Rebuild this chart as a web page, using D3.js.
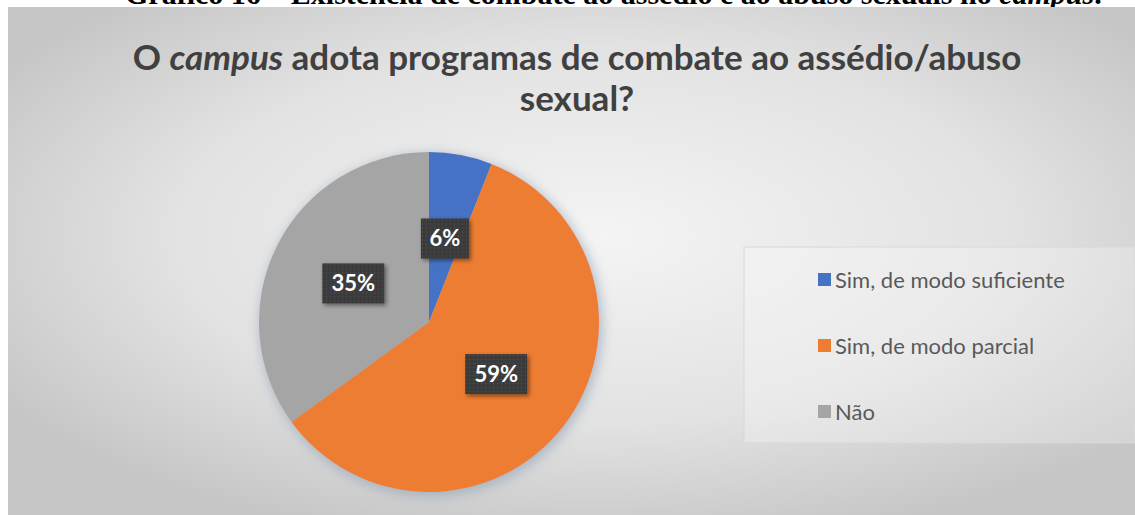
<!doctype html>
<html lang="pt">
<head>
	<meta charset="UTF-8">
	<title>campus assedio</title>
	<script src="https://d3js.org/d3.v7.min.js"></script>
	<style>
		body { margin: 0; background: #fff; overflow: hidden; }
	</style>
</head>
<body>
	<div id="chart"></div>
	<script>
		// data
		var categories = ['Sim, de modo suficiente', 'Sim, de modo parcial', 'Não']
		var values = [6, 59, 35]
		var colors = ['#4472C4', '#ED7D31', '#A5A5A5']

		var w = 1135, h = 515

		var svg = d3.select('#chart').append('svg')
			.attr('width', w)
			.attr('height', h)

		var defs = svg.append('defs')

		// chart background, light in the middle and grey at the edges
		var bg = defs.append('radialGradient')
			.attr('id', 'bg')
			.attr('cx', '0.52').attr('cy', '0.45').attr('r', '0.62')
		bg.append('stop').attr('offset', '0%').attr('stop-color', '#f4f4f4')
		bg.append('stop').attr('offset', '60%').attr('stop-color', '#e2e2e2')
		bg.append('stop').attr('offset', '100%').attr('stop-color', '#c6c6c6')

		var shadow = defs.append('filter').attr('id', 'pieshadow')
			.attr('x', '-20%').attr('y', '-20%').attr('width', '140%').attr('height', '140%')
		shadow.append('feDropShadow')
			.attr('dx', 2).attr('dy', 3).attr('stdDeviation', 7)
			.attr('flood-color', '#8fa0b4').attr('flood-opacity', 0.75)

		var lblshadow = defs.append('filter').attr('id', 'lblshadow')
			.attr('x', '-30%').attr('y', '-30%').attr('width', '160%').attr('height', '160%')
		lblshadow.append('feDropShadow')
			.attr('dx', 2).attr('dy', 2).attr('stdDeviation', 2)
			.attr('flood-color', '#000').attr('flood-opacity', 0.45)

		// dotted fill of the data label boxes
		var dots = defs.append('pattern')
			.attr('id', 'dots')
			.attr('width', 4).attr('height', 4)
			.attr('patternUnits', 'userSpaceOnUse')
		dots.append('rect').attr('width', 4).attr('height', 4).attr('fill', '#3a3a3a')
		dots.append('rect').attr('x', 1).attr('y', 1).attr('width', 1).attr('height', 1).attr('fill', '#5a5a5a')

		// caption of the page, cut off at the top (as in the scan)
		var cap = svg.append('text')
			.attr('x', 125).attr('y', 4)
			.style('font-family', '"Liberation Serif", "Times New Roman", serif')
			.style('font-weight', 'bold')
			.style('font-size', '30px')
			.attr('fill', '#000')
		cap.append('tspan').text('Gráfico 16 – Existência de combate ao assédio e ao abuso sexuais no ')
		cap.append('tspan').style('font-style', 'italic').text('campus')
		cap.append('tspan').text('.')

		// chart area
		svg.append('rect')
			.attr('x', 8).attr('y', 7)
			.attr('width', w - 8).attr('height', h - 7)
			.attr('fill', 'url(#bg)')

		// title
		var title = svg.append('text')
			.attr('x', 577).attr('y', 70)
			.attr('text-anchor', 'middle')
			.style('font-family', 'Lato, "Open Sans", sans-serif')
			.style('font-weight', 'bold')
			.style('font-size', '35px')
			.attr('fill', '#404040')
		title.append('tspan').text('O ')
		title.append('tspan').style('font-style', 'italic').text('campus')
		title.append('tspan').text(' adota programas de combate ao assédio/abuso')

		svg.append('text')
			.attr('x', 577).attr('y', 111)
			.attr('text-anchor', 'middle')
			.style('font-family', 'Lato, "Open Sans", sans-serif')
			.style('font-weight', 'bold')
			.style('font-size', '35px')
			.attr('fill', '#404040')
			.text('sexual?')

		// pie
		var cx = 429, cy = 322, r = 170

		var pie = d3.pie().sort(null).value(d => d.value)
		var arcs = pie(categories.map((c, i) => ({ name: c, value: values[i], color: colors[i] })))

		var arc = d3.arc().innerRadius(0).outerRadius(r)
		var labelArc = d3.arc().innerRadius(r / 2).outerRadius(r / 2)

		var g = svg.append('g').attr('transform', 'translate(' + cx + ',' + cy + ')')

		g.append('g').attr('filter', 'url(#pieshadow)')
			.selectAll('path')
			.data(arcs)
			.join('path')
			.attr('d', arc)
			.attr('fill', d => d.data.color)

		// data labels
		var lbl = g.selectAll('g.lbl')
			.data(arcs)
			.join('g')
			.attr('class', 'lbl')
			.attr('transform', d => 'translate(' + labelArc.centroid(d) + ')')

		lbl.append('rect')
			.attr('x', d => d.data.value < 10 ? -24 : -31)
			.attr('y', -20)
			.attr('width', d => d.data.value < 10 ? 48 : 62)
			.attr('height', 40)
			.attr('fill', 'url(#dots)')
			.attr('filter', 'url(#lblshadow)')

		lbl.append('text')
			.attr('text-anchor', 'middle')
			.attr('dy', '0.36em')
			.style('font-family', 'Lato, "Open Sans", sans-serif')
			.style('font-weight', 'bold')
			.style('font-size', '22px')
			.attr('fill', '#fff')
			.text(d => d.data.value + '%')

		// legend
		svg.append('rect')
			.attr('x', 744).attr('y', 247)
			.attr('width', w - 744).attr('height', 196)
			.attr('fill', '#ffffff').attr('fill-opacity', 0.25)
			.attr('stroke', '#d8d8d8').attr('stroke-width', 1)

		var legendY = d3.scalePoint().domain(categories).range([280, 412])

		var leg = svg.selectAll('g.leg')
			.data(categories)
			.join('g')
			.attr('class', 'leg')
			.attr('transform', d => 'translate(818,' + legendY(d) + ')')

		leg.append('rect')
			.attr('x', 0).attr('y', -7)
			.attr('width', 13).attr('height', 13)
			.attr('fill', (d, i) => colors[i])

		leg.append('text')
			.attr('x', 17).attr('dy', '0.35em')
			.style('font-family', 'Lato, "Open Sans", sans-serif')
			.style('font-size', '22px')
			.attr('fill', '#595959')
			.text(d => d)
	</script>
</body>
</html>
